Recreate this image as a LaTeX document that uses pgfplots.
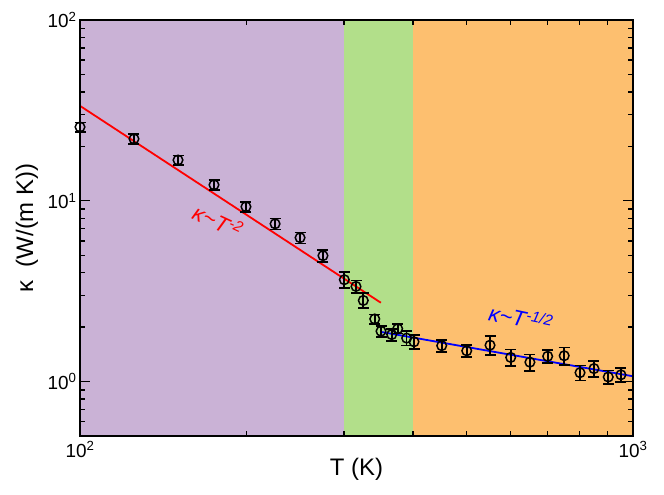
\documentclass[border=0pt]{standalone}
\usepackage{fontspec}
\setmainfont{Liberation Sans}
\usepackage{pgfplots}
\usepackage{pgfplotstable}
\pgfplotsset{compat=1.18}
\definecolor{bgpurple}{HTML}{CAB2D6}
\definecolor{bggreen}{HTML}{B2DF8A}
\definecolor{bgorange}{HTML}{FDBF6F}

% T (K), kappa (W/(m K)), relative error
\pgfplotstableread{
T k err
100   25.6 0.060
125.2 22.0 0.060
150.4 16.8 0.060
174.7 12.25 0.065
199.6 9.27 0.065
225.3 7.46 0.070
250   6.25 0.070
275   4.97 0.075
300.6 3.66 0.100
315.6 3.36 0.080
325.3 2.81 0.095
341.2 2.22 0.060
350.2 1.90 0.070
366.2 1.82 0.075
375.4 1.96 0.060
389.7 1.74 0.090
401.8 1.66 0.090
450.9 1.58 0.075
500.4 1.48 0.080
551.4 1.59 0.120
600.9 1.36 0.105
651   1.28 0.105
701   1.38 0.080
751   1.39 0.110
802   1.12 0.095
850   1.18 0.100
902   1.06 0.085
951   1.09 0.090
}\kappadata

\begin{document}
\begin{tikzpicture}
\begin{axis}[
  at={(0,0)}, anchor=south west,
  xmode=log, ymode=log,
  width=553bp, height=416bp, scale only axis,
  xmin=100, xmax=1000, ymin=0.5, ymax=100,
  xtick={100,1000},
  xticklabels={10\textsuperscript{2},10\textsuperscript{3}},
  ytick={1,10,100},
  yticklabels={10\textsuperscript{0},10\textsuperscript{1},10\textsuperscript{2}},
  minor xtick={200,300,400,500,600,700,800,900},
  minor ytick={0.6,0.7,0.8,0.9,2,3,4,5,6,7,8,9,20,30,40,50,60,70,80,90},
  axis on top, clip=false,
  axis line style={black, line width=1.8bp},
  every tick/.style={black, line width=1.4bp},
  major tick length=10bp, minor tick length=5bp,
  tick label style={font=\fontsize{19}{20}\selectfont},
  xticklabel style={yshift=-2bp},
  xlabel={T (K)}, ylabel={κ\ \ (W/(m K))},
  label style={font=\fontsize{24}{26}\selectfont},
  xlabel style={at={(axis description cs:0.5,0)}, anchor=center, yshift=-33bp},
  ylabel style={at={(axis description cs:-0.096,0.5)}, anchor=center},
]
\addplot[fill=bgpurple, draw=none, forget plot] coordinates {(100,0.5) (100,100) (300,100) (300,0.5)} -- cycle;
\addplot[fill=bggreen, draw=none, forget plot] coordinates {(300,0.5) (300,100) (400,100) (400,0.5)} -- cycle;
\addplot[fill=bgorange, draw=none, forget plot] coordinates {(400,0.5) (400,100) (1000,100) (1000,0.5)} -- cycle;

\addplot[red, line width=1.8bp] coordinates {(100,33.5) (350,2.73)};
\addplot[blue, line width=1.8bp] coordinates {(351,1.88) (1000,1.07)};

\addplot[black, only marks, mark=o, mark size=4.8bp, line width=1.5bp,
  error bars/.cd, y dir=both, y explicit relative,
  error bar style={line width=1.7bp},
  error mark options={rotate=90, mark size=5.5bp, line width=1.7bp}]
  table[x=T, y=k, y error=err] {\kappadata};

\node[red, rotate=-25, font=\fontsize{22}{24}\selectfont\itshape] at (axis cs:177.7,7.75) {κ\textasciitilde T\textsuperscript{-2}};
\node[blue, rotate=-12, font=\fontsize{22}{24}\selectfont\itshape] at (axis cs:627,2.26) {κ\textasciitilde T\textsuperscript{-1/2}};
\end{axis}
\path (-80bp,-59bp) rectangle (584bp,436bp);
\end{tikzpicture}
\end{document}
